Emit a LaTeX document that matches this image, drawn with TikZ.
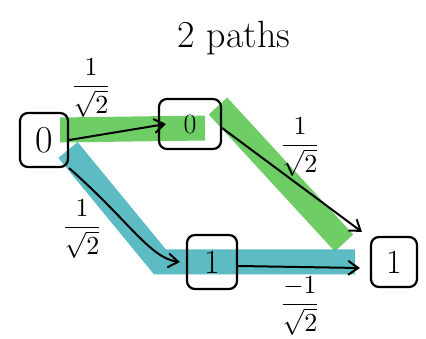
\documentclass[tikz,border=0pt]{standalone}
\usepackage{amsmath}
\usetikzlibrary{arrows.meta}
\definecolor{bandgreen}{RGB}{95,200,85}
\definecolor{bandteal}{RGB}{75,180,188}
\newcommand{\ampl}[1]{\scalebox{2.6}{$\dfrac{#1}{\sqrt{2}}$}}
\tikzset{
  state/.style={draw, line width=2.2pt, rounded corners=8pt, inner sep=0pt},
  arr/.style={line width=2pt, -{Straight Barb[length=10pt,width=14pt,line width=2pt]}},
  amp/.style={inner sep=1pt},
  band/.style={line width=25pt, line join=miter, line cap=butt, opacity=0.9}
}
\begin{document}
\begin{tikzpicture}[x=1pt,y=-1pt]
\useasboundingbox (0,0) rectangle (426,339);
% bands
\draw[band, bandgreen] (60,130) -- (205,128);
\draw[band, bandgreen] (218,106) -- (344,243);
\draw[band, bandteal] (68,150) -- (160,262) -- (355,262);
% nodes
\node[state, minimum width=48pt, minimum height=54pt, font=\fontsize{38}{40}\selectfont] (a0) at (44,140) {0};
\node[state, minimum width=62pt, minimum height=50pt, font=\fontsize{28}{30}\selectfont] (b0) at (190,124) {0};
\node[state, minimum width=50pt, minimum height=54pt, font=\fontsize{34}{36}\selectfont] (b1) at (212,262) {1};
\node[state, minimum width=46pt, minimum height=50pt, font=\fontsize{34}{36}\selectfont] (c1) at (394,262) {1};
% title
\node[font=\fontsize{38}{40}\selectfont] (title) at (234,38) {2 paths};
% arrows
\draw[arr] (a0.east) -- ([xshift=8pt]b0.west);
\draw[arr] ([yshift=-4pt]b0.east) -- ([xshift=-8pt,yshift=4pt]c1.north west);
\draw[arr] (a0.south east) .. controls (130,222) and (150,258) .. ([xshift=-6pt]b1.west);
\draw[arr] ([yshift=-4pt]b1.east) -- ([xshift=-10pt,yshift=-6pt]c1.west);
% labels
\node[amp] (l1) at (91,88) {\ampl{1}};
\node[amp] (l2) at (300,147) {\ampl{1}};
\node[amp] (l3) at (82,229) {\ampl{1}};
\node[amp] (l4) at (300,306) {\ampl{-1}};
\end{tikzpicture}
\end{document}
